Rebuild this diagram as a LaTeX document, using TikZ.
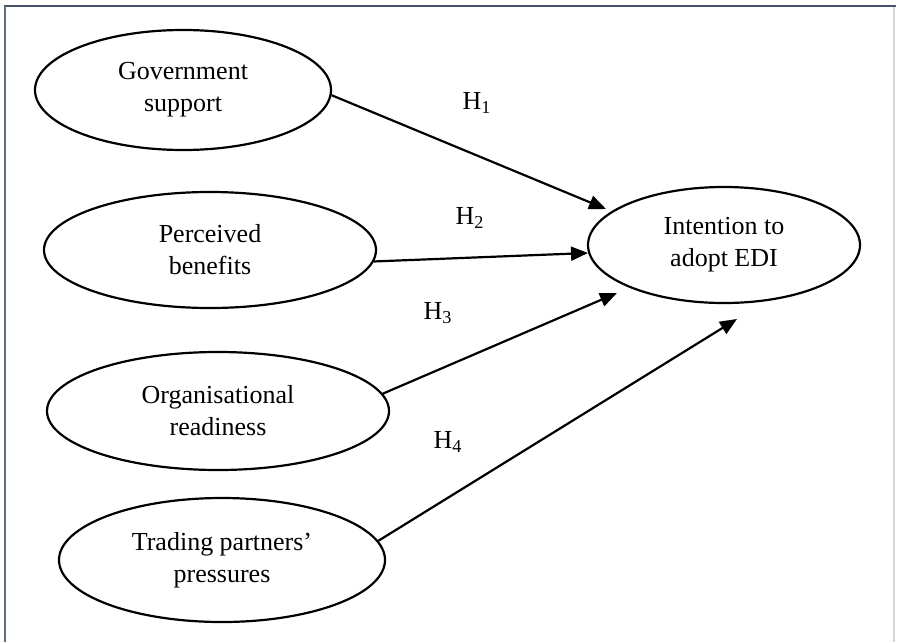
\documentclass[tikz,border=0pt]{standalone}
\usepackage{fontspec}
\setmainfont{Liberation Serif}
\usetikzlibrary{shapes.geometric,arrows.meta}

\definecolor{frameblue}{HTML}{44546A}
\definecolor{framegrey}{HTML}{D4D4D4}

\begin{document}
\begin{tikzpicture}[x=0.5pt,y=-0.5pt]
                \useasboundingbox (0,0) rectangle (898,642);

                % frame round the figure
                \draw[frameblue, line width=1.3pt] (4,6) -- (896,6);
                \draw[frameblue!85, line width=1.3pt] (5,6) -- (5,642);
                \draw[framegrey, line width=0.6pt] (894,7) -- (894,642);

                \begin{scope}[
                        every node/.style={ellipse, draw, line width=1.1pt, align=center,
                            font=\fontsize{13}{16}\selectfont, inner sep=0pt},
                        every edge/.style={draw, line width=1.1pt}
                    ]

                    \node[minimum width=148pt, minimum height=60pt] (gov) at (183,90) {Government\\support};
                    \node[minimum width=166pt, minimum height=58pt] (pb) at (210,250) {Perceived\\benefits};
                    \node[minimum width=171pt, minimum height=59pt] (or) at (218,411) {Organisational\\readiness};
                    \node[minimum width=163pt, minimum height=62pt] (tp) at (222,560) {Trading partners’\\pressures};

                    \node[minimum width=136pt, minimum height=58pt] (ied) at (724,245) {Intention to\\adopt EDI};
                \end{scope}

                \coordinate (t1) at (606,209);
                \coordinate (t2) at (588,253);
                \coordinate (t3) at (617,293);
                \coordinate (t4) at (737,319);

                \begin{scope}[line width=1.1pt, -{Triangle[length=8.5pt, width=7pt]}]
                    \draw (gov.-2) -- (t1);
                    \draw (pb.-4) -- (t2);
                    \draw (or.6) -- (t3);
                    \draw (tp.7) -- (t4);
                \end{scope}

                \begin{scope}[every node/.style={font=\fontsize{13}{15}\selectfont}]
                    \node (h1) at (477,103) {H\textsubscript{1}};
                    \node (h2) at (470,218) {H\textsubscript{2}};
                    \node (h3) at (438,313) {H\textsubscript{3}};
                    \node (h4) at (448,442) {H\textsubscript{4}};
                \end{scope}
            \end{tikzpicture}
\end{document}
